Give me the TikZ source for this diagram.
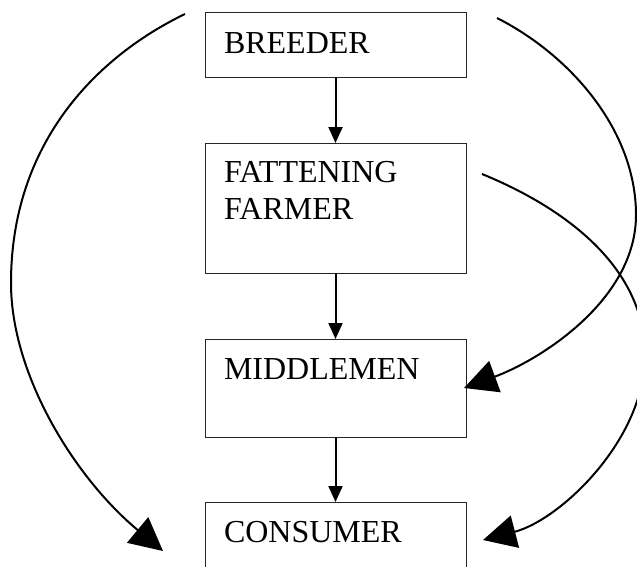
\documentclass[tikz,border=0pt]{standalone}
\usepackage{fontspec}
\setmainfont{Liberation Serif}
\usetikzlibrary{arrows.meta}
\begin{document}
\begin{tikzpicture}[x=1pt,y=-1pt,
  box/.style={draw=black!85, line width=1pt, anchor=north west, outer sep=0pt,
    inner xsep=19pt, inner ysep=0pt, text width=223pt, align=left,
    font=\fontsize{32}{37}\selectfont},
  flow/.style={line width=2pt, -{Triangle[length=16pt,width=14pt]}},
  bigarc/.style={line width=2pt, -{Triangle[length=33pt,width=33pt]}}]
\useasboundingbox (0,0) rectangle (637,566);
\clip (0,0) rectangle (637,566);
\fill[white] (0,0) rectangle (637,566);
% boxes
\node[box, text height=41pt, text depth=24pt] (breeder) at (205,12) {BREEDER};
\node[box, text height=39pt, text depth=91pt] (fatt) at (205,143) {FATTENING FARMER};
\node[box, text height=40pt, text depth=58pt] (mid) at (205,339) {MIDDLEMEN};
\node[box, text height=40pt, text depth=58pt] (cons) at (205,502) {CONSUMER};
% straight connectors
\draw[flow] (breeder.south) -- (fatt.north);
\draw[flow] (fatt.south) -- (mid.north);
\draw[flow] (mid.south) -- (cons.north);
% free ends of the curved connectors
\coordinate (ls) at (185,14);
\coordinate (lm) at (11,283);
\coordinate (le) at (163,551);
\coordinate (rs) at (497,18);
\coordinate (rm) at (636,215);
\coordinate (re) at (464,388);
\coordinate (fs) at (482,174);
\coordinate (fm) at (645,355);
\coordinate (fe) at (483,540);
% curved connectors
\draw[bigarc] (ls) .. controls (100,55) and (11,140) .. (lm)
  .. controls (11,375) and (75,478) .. (le);
\draw[bigarc] (rs) .. controls (570,55) and (636,130) .. (rm)
  .. controls (636,300) and (540,360) .. (re);
\draw[bigarc] (fs) .. controls (570,210) and (645,270) .. (fm)
  .. controls (645,440) and (560,520) .. (fe);
\end{tikzpicture}
\end{document}
